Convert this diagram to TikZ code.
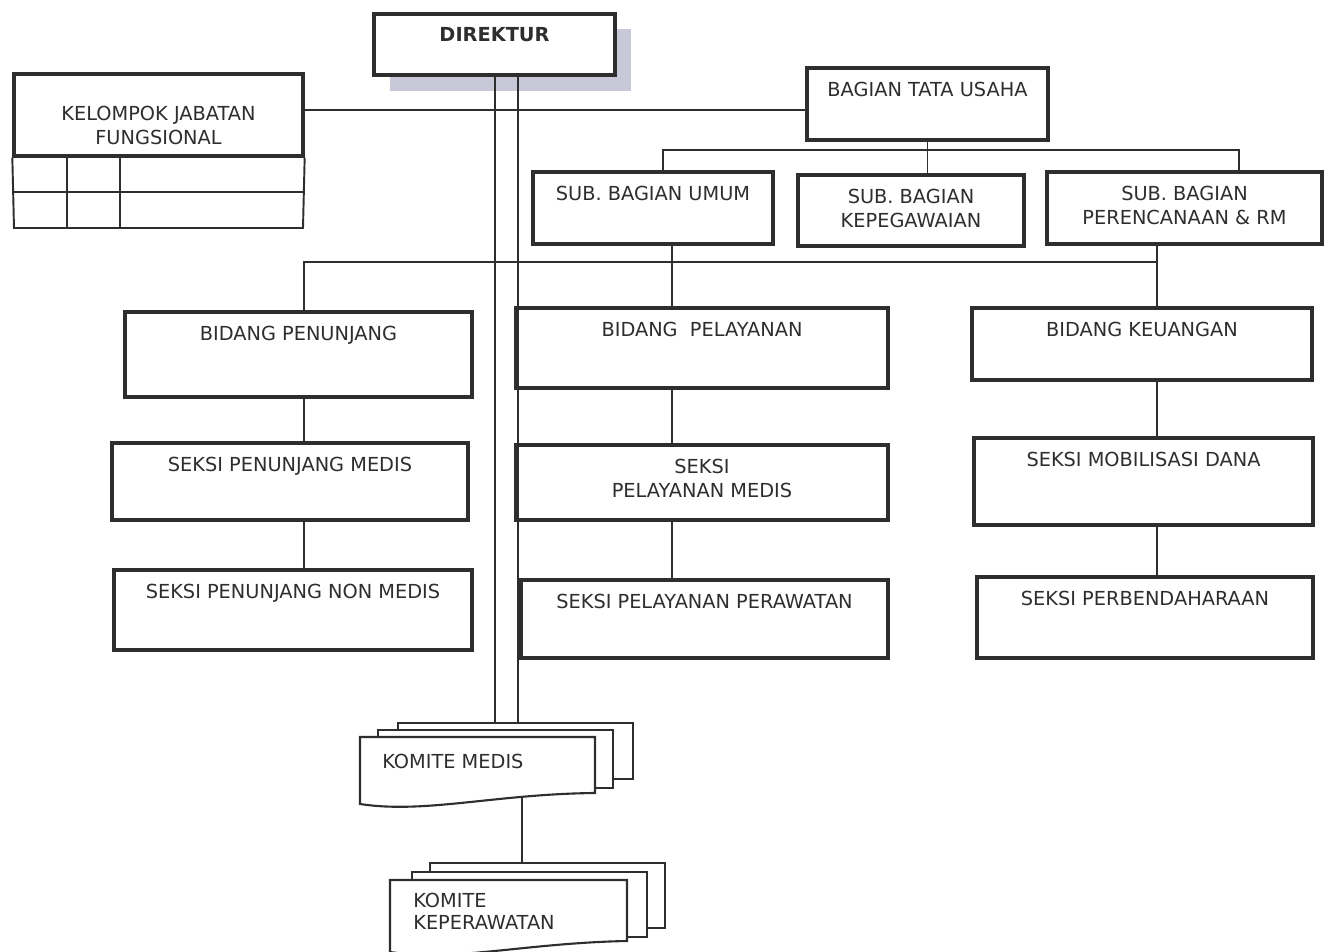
\documentclass[tikz,border=0pt]{standalone}
\usepackage{fontspec}
\setmainfont{DejaVu Sans}
\usetikzlibrary{fit,positioning}

\definecolor{inkgrey}{HTML}{2E2E2E}
\definecolor{shadowgrey}{HTML}{C8C9D8}

\tikzstyle{unit}=[draw=inkgrey,line width=1.9pt,fill=white,inner sep=0pt]
\tikzstyle{txt}=[inner sep=0pt,align=center,text=inkgrey,font=\fontsize{11}{14.2}\selectfont]
\tikzstyle{link}=[draw=inkgrey,line width=1.1pt]
\tikzstyle{page}=[draw=inkgrey,line width=1.2pt,fill=white,inner sep=0pt]
\newcommand{\pxunit}{0.02cm}

\begin{document}
\begin{tikzpicture}[x=\pxunit, y=-\pxunit]
    \useasboundingbox (0,0) rectangle (1332,952);

    % shadow behind the director
    \fill[shadowgrey] (390,29) rectangle (631,91);

    % the boxes: name / top left / bottom right / text
    \foreach \name/\xa/\ya/\xb/\yb/\txt in {
        dir/374/14/615/75/{\textbf{DIREKTUR}},
        btu/807/68/1048/140/{BAGIAN TATA USAHA},
        sbu/533/172/773/244/{SUB. BAGIAN UMUM},
        sbk/798/175/1024/246/{SUB. BAGIAN\\KEPEGAWAIAN},
        sbr/1047/172/1322/244/{SUB. BAGIAN\\PERENCANAAN \& RM},
        bpen/125/312/472/397/{BIDANG PENUNJANG},
        spm/112/443/468/520/{SEKSI PENUNJANG MEDIS},
        spnm/114/570/472/650/{SEKSI PENUNJANG NON MEDIS},
        bpel/516/308/888/388/{BIDANG~~PELAYANAN},
        spmed/516/445/888/520/{SEKSI\\PELAYANAN MEDIS},
        sprw/521/580/888/658/{SEKSI PELAYANAN PERAWATAN},
        bkeu/972/308/1312/380/{BIDANG KEUANGAN},
        smd/974/438/1313/525/{SEKSI MOBILISASI DANA},
        sbd/977/577/1313/658/{SEKSI PERBENDAHARAAN}}{
        \node[unit, fit={(\xa,\ya) (\xb,\yb)}] (\name) {};
        \node[txt, below=0.3cm of \name.north] (\name-t) {\txt};
    }

    % functional group with its table
    \node[unit, fit={(14,74) (303,156)}] (kjf) {};
    \node[txt, below=0.66cm of kjf.north] (kjf-t) {KELOMPOK JABATAN\\FUNGSIONAL};
    \draw[link] (kjf.south west) -- (14,228) -- (303,228) -- (kjf.south east);
    \draw[link] (14,192) -- (303,192);
    \foreach \x in {67,120}
        \draw[link] (\x,156) -- (\x,228);

    % committees drawn as stacked pages
    \node[page, fit={(398,723) (633,779)}] (kmback) {};
    \node[page, fit={(378,730) (613,788)}] (kmmid) {};
    \draw[page] (595,793) -- (595,737) -- (360,737) -- (360,804)
        .. controls (425,814) and (495,794) .. (595,793) -- cycle;
    \node[txt, anchor=north west] (km) at (382,754) {KOMITE MEDIS};

    \node[page, fit={(430,863) (665,928)}] (kkback) {};
    \node[page, fit={(412,872) (647,937)}] (kkmid) {};
    \draw[page] (627,941) -- (627,880) -- (390,880) -- (390,952)
        .. controls (455,962) and (525,943) .. (627,941) -- cycle;
    \node[txt, anchor=north west, align=left, font=\fontsize{11}{12.5}\selectfont] (kk) at (413,893) {KOMITE\\KEPERAWATAN};

    % helper points for the connectors
    \coordinate (vl) at (495,0);
    \coordinate (vr) at (518,0);
    \coordinate (h1) at (0,110);
    \coordinate (t1) at (663,150);
    \coordinate (t2) at (1239,150);
    \coordinate (m1) at (304,262);
    \coordinate (m2) at (1157,262);
    \coordinate (c2) at (672,0);
    \coordinate (kmfoot) at (522,797);

    % connectors
    \path[link] (dir.south -| vl) -- (kmback.north -| vl);
    \path[link] (dir.south -| vr) -- (kmback.north -| vr);
    \path[link] (kjf.east |- h1) -- (btu.west |- h1);
    \path[link] (btu.south) -- (sbk.north -| btu.south);
    \path[link] (sbu.north -| t1) -- (t1) -- (t2) -- (sbr.north -| t2);
    \path[link] (bpen.north -| m1) -- (m1) -- (m2);
    \path[link] (sbr.south -| m2) -- (bkeu.north -| m2);
    \path[link] (sbu.south -| c2) -- (bpel.north -| c2);
    \path[link] (bpen.south -| m1) -- (spm.north -| m1);
    \path[link] (spm.south -| m1) -- (spnm.north -| m1);
    \path[link] (bpel.south -| c2) -- (spmed.north -| c2);
    \path[link] (spmed.south -| c2) -- (sprw.north -| c2);
    \path[link] (bkeu.south -| m2) -- (smd.north -| m2);
    \path[link] (smd.south -| m2) -- (sbd.north -| m2);
    \path[link] (kmfoot) -- (kkback.north -| kmfoot);
\end{tikzpicture}
\end{document}
